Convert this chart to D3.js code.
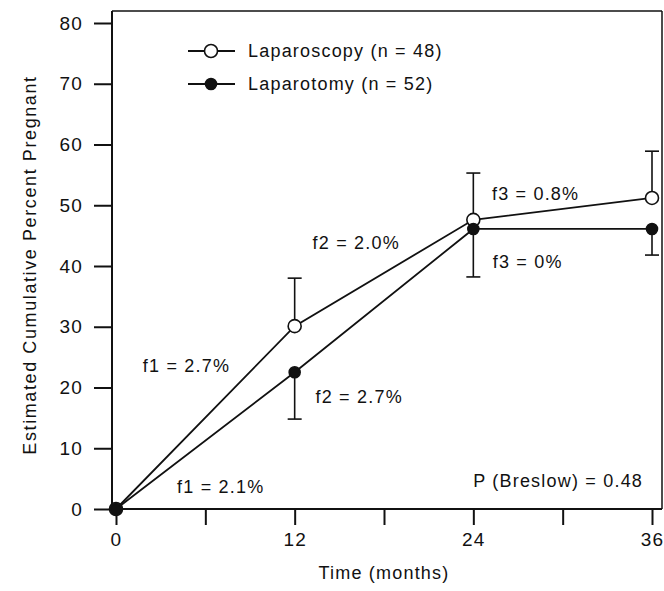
<!DOCTYPE html>
<html>
<head>
<meta charset="utf-8">
<script src="https://cdn.jsdelivr.net/npm/d3@7/dist/d3.min.js"></script>
<style>
  body { margin: 0; background: #fff; }
  svg text { font-family: "Liberation Sans", Arial, Helvetica, sans-serif; fill: #111; letter-spacing: 1.2px; }
</style>
</head>
<body>
<div id="chart"></div>
<script>
'use strict';

// months of follow-up
let months = [0, 12, 24, 36];

// estimated cumulative percent pregnant
let laparoscopy = [0, 30.1, 47.6, 51.2];
let laparotomy = [0, 22.5, 46.1, 46.1];

// error bar ends (upper for laparoscopy, lower for laparotomy)
let laparoscopyUpper = [0, 38.0, 55.3, 58.9];
let laparotomyLower = [0, 14.8, 38.2, 41.8];

let xTicks = [0, 6, 12, 18, 24, 30, 36];
let xLabels = [0, 12, 24, 36];
let yTicks = [0, 10, 20, 30, 40, 50, 60, 70, 80];

let legendLabels = ['Laparoscopy (n = 48)', 'Laparotomy (n = 52)'];

// rate notes, anchored in data units
let notes = [
  {text: 'f1 = 2.7%', t: 1.8, v: 22.5, anchor: 'start'},
  {text: 'f1 = 2.1%', t: 4.1, v: 2.6, anchor: 'start'},
  {text: 'f2 = 2.0%', t: 13.2, v: 42.8, anchor: 'start'},
  {text: 'f2 = 2.7%', t: 13.4, v: 17.4, anchor: 'start'},
  {text: 'f3 = 0.8%', t: 25.25, v: 50.9, anchor: 'start'},
  {text: 'f3 = 0%', t: 25.3, v: 39.7, anchor: 'start'},
  {text: 'P (Breslow) = 0.48', t: 35.4, v: 3.6, anchor: 'end'}
];

let width = 664, height = 591;
let axisX = 112, frameTop = 11, frameRight = 662;

let svg = d3.select('#chart').append('svg')
    .attr('width', width)
    .attr('height', height);

let x = d3.scaleLinear().domain([0, 36]).range([116, 652]);
let y = d3.scaleLinear().domain([0, 80]).range([509, 23]);

//frame top / right
svg.append('line')
    .attr('x1', axisX).attr('x2', frameRight)
    .attr('y1', frameTop).attr('y2', frameTop)
    .attr('stroke', '#111').attr('stroke-width', 1.5);
svg.append('line')
    .attr('x1', frameRight).attr('x2', frameRight)
    .attr('y1', frameTop).attr('y2', y(0))
    .attr('stroke', '#111').attr('stroke-width', 1.5);

//xAxis
let xAxis = svg.append('g')
    .attr('transform', 'translate(0,' + y(0) + ')')
    .call(d3.axisBottom(x)
      .tickValues(xTicks)
      .tickSize(16)
      .tickPadding(8)
      .tickFormat(d => xLabels.includes(d) ? d : ''));
xAxis.select('.domain').attr('d', 'M' + axisX + ',0H' + frameRight);

//yAxis
let yAxis = svg.append('g')
    .attr('transform', 'translate(' + axisX + ',0)')
    .call(d3.axisLeft(y)
      .tickValues(yTicks)
      .tickSize(18)
      .tickPadding(11));
yAxis.select('.domain').attr('d', 'M0,' + frameTop + 'V' + y(0));

svg.selectAll('.tick text').attr('font-size', 19).style('font-family', null);
svg.selectAll('.domain, .tick line').attr('stroke', '#111').attr('stroke-width', 2);

//axis titles
svg.append('text')
    .attr('transform', 'translate(36,' + 265 + ')rotate(-90)')
    .attr('text-anchor', 'middle')
    .attr('font-size', 18)
    .style('letter-spacing', '1.6px')
    .text('Estimated Cumulative Percent Pregnant');

svg.append('text')
    .attr('x', 384)
    .attr('y', 579)
    .attr('text-anchor', 'middle')
    .attr('font-size', 18)
    .text('Time (months)');

let series = [
  {values: laparoscopy, bar: laparoscopyUpper, open: true},
  {values: laparotomy, bar: laparotomyLower, open: false}
];

let line = d3.line()
    .x((d, i) => x(months[i]))
    .y(d => y(d));

series.forEach(s => {
  svg.append('path')
      .datum(s.values)
      .attr('d', line)
      .attr('fill', 'none')
      .attr('stroke', '#111')
      .attr('stroke-width', 1.8);
});

//error bars
series.forEach(s => {
  let g = svg.append('g').attr('stroke', '#111').attr('stroke-width', 1.6);
  months.forEach((m, i) => {
    if (i === 0) return;
    g.append('line')
        .attr('x1', x(m)).attr('x2', x(m))
        .attr('y1', y(s.values[i])).attr('y2', y(s.bar[i]));
    g.append('line')
        .attr('x1', x(m) - 7).attr('x2', x(m) + 7)
        .attr('y1', y(s.bar[i])).attr('y2', y(s.bar[i]));
  });
});

//markers
series.forEach(s => {
  svg.append('g').selectAll('circle')
      .data(s.values)
      .join('circle')
      .attr('cx', (d, i) => x(months[i]))
      .attr('cy', d => y(d))
      .attr('r', s.open ? 6.5 : 5.5)
      .attr('fill', s.open ? '#fff' : '#111')
      .attr('stroke', '#111')
      .attr('stroke-width', 1.6);
});

//notes
svg.append('g').selectAll('text')
    .data(notes)
    .join('text')
    .attr('x', d => x(d.t))
    .attr('y', d => y(d.v))
    .attr('text-anchor', d => d.anchor)
    .attr('font-size', 18)
    .text(d => d.text);

//legend
let legend = svg.append('g').attr('transform', 'translate(188,51)');
legendLabels.forEach((label, i) => {
  let row = legend.append('g').attr('transform', 'translate(0,' + (i * 33) + ')');
  row.append('line')
      .attr('x1', 0).attr('x2', 47)
      .attr('stroke', '#111').attr('stroke-width', 1.8);
  row.append('circle')
      .attr('cx', 23).attr('r', i === 0 ? 6.5 : 5.5)
      .attr('fill', i === 0 ? '#fff' : '#111')
      .attr('stroke', '#111').attr('stroke-width', 1.6);
  row.append('text')
      .attr('x', 60)
      .attr('dy', '0.35em')
      .attr('font-size', 18)
      .text(label);
});
</script>
</body>
</html>
